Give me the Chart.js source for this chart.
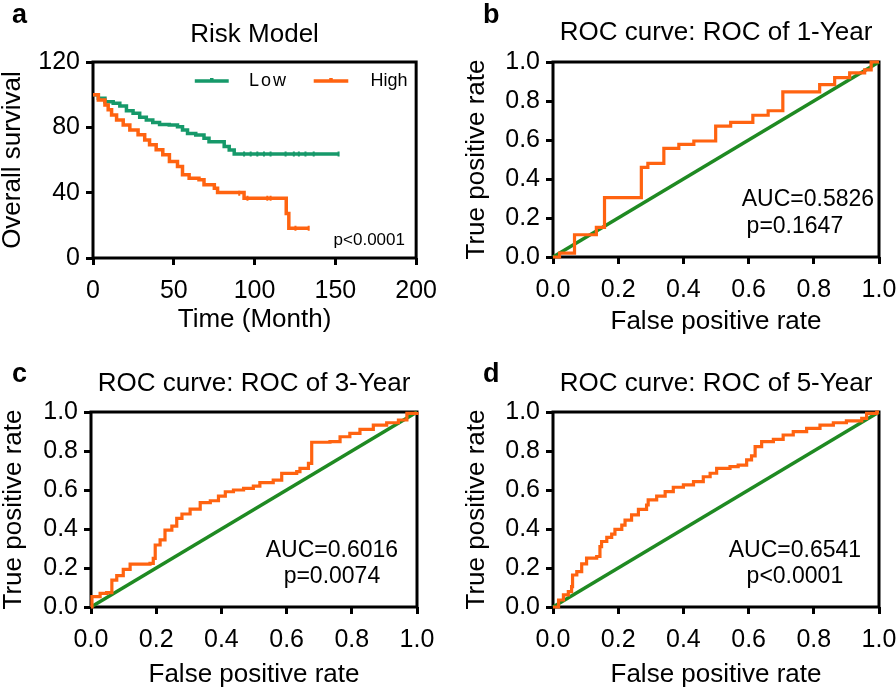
<!DOCTYPE html>
<html>
<head>
    <title>Risk Model and ROC curves</title>
    <script src="https://cdn.jsdelivr.net/npm/chart.js"></script>
    <style>
        html, body { margin: 0; background: #fff; overflow: hidden; width: 896px; height: 688px; }
        canvas { position: absolute; }
    </style>
</head>
<body>
    <canvas id="kmChart" width="448" height="344" style="left:0;top:0"></canvas>
    <canvas id="roc1Chart" width="470" height="344" style="left:448px;top:0"></canvas>
    <canvas id="roc3Chart" width="448" height="344" style="left:0;top:344px"></canvas>
    <canvas id="roc5Chart" width="470" height="344" style="left:448px;top:344px"></canvas>

    <script>
        // a: Kaplan-Meier, survival (%) after each drop
        const lowTime = [0, 3.3, 7.4, 12.5, 16.6, 20.7, 24.8, 28.9, 33, 37, 41.2, 47.2, 52.3, 55.4, 58.5, 63.6, 68.7, 71.8, 81.2, 84.3, 87.4, 152];
        const lowSurv = [100, 97.8, 95.7, 94.7, 93.1, 90.2, 88.6, 86.2, 84.5, 82.9, 81.8, 81.4, 80.4, 78.4, 76.3, 75.3, 73.3, 71.2, 68.2, 66.1, 63.7, 63.7];
        const highTime = [0, 3.3, 7.4, 9.4, 11.5, 14.6, 18.7, 22.8, 27.9, 32, 35, 39.1, 43.2, 47.3, 52.3, 55.4, 59.5, 65.6, 68.7, 75.1, 77.1, 93.5, 119.6, 121.2, 133.5];
        const highSurv = [100, 96.8, 93.7, 90.7, 87.6, 84.5, 81.5, 78.4, 75.4, 72.3, 69.3, 66.2, 63.2, 59.1, 56, 50.9, 48.9, 47.9, 44.8, 42.7, 40.1, 36.6, 27.3, 18.2, 18.2];
        // censored marks
        const lowCensTime = [93.5, 97.6, 101.7, 105.8, 109.9, 119.2, 124.3, 127.4, 131.5, 136.6, 152];
        const lowCensSurv = [63.7, 63.7, 63.7, 63.7, 63.7, 63.7, 63.7, 63.7, 63.7, 63.7, 63.7];
        const highCensTime = [90.5, 95.6, 107.9, 109.9, 125.3, 133.5];
        const highCensSurv = [39.7, 36.6, 36.6, 36.6, 18.2, 18.2];

        // b: ROC 1-year
        const fpr1 = [0, 0.02, 0.066, 0.133, 0.158, 0.271, 0.291, 0.34, 0.386, 0.432, 0.499, 0.545, 0.613, 0.66, 0.705, 0.818, 0.864, 0.91, 0.956, 0.976, 1.0];
        const tpr1 = [0, 0.02, 0.114, 0.152, 0.305, 0.46, 0.48, 0.557, 0.578, 0.595, 0.671, 0.69, 0.727, 0.75, 0.847, 0.884, 0.92, 0.944, 0.96, 1.0, 1.0];

        // c: ROC 3-year
        const fpr3 = [0, 0.003, 0.028, 0.048, 0.064, 0.079, 0.099, 0.12, 0.181, 0.191, 0.197, 0.212, 0.227, 0.248, 0.263, 0.279, 0.304, 0.335, 0.366, 0.391, 0.412, 0.437, 0.468, 0.498, 0.518, 0.559, 0.585, 0.631, 0.641, 0.667, 0.677, 0.733, 0.764, 0.794, 0.825, 0.866, 0.907, 0.943, 0.969, 1.0];
        const tpr3 = [0, 0.053, 0.07, 0.074, 0.138, 0.161, 0.193, 0.22, 0.224, 0.249, 0.318, 0.344, 0.394, 0.415, 0.455, 0.477, 0.502, 0.535, 0.545, 0.569, 0.591, 0.6, 0.608, 0.62, 0.638, 0.651, 0.685, 0.694, 0.711, 0.737, 0.845, 0.848, 0.873, 0.89, 0.911, 0.933, 0.945, 0.959, 0.993, 1.0];

        // d: ROC 5-year
        const fpr5 = [0, 0.006, 0.017, 0.032, 0.047, 0.057, 0.06, 0.073, 0.088, 0.103, 0.134, 0.144, 0.149, 0.165, 0.18, 0.19, 0.211, 0.221, 0.241, 0.262, 0.287, 0.292, 0.318, 0.344, 0.369, 0.4, 0.431, 0.461, 0.482, 0.502, 0.543, 0.568, 0.594, 0.609, 0.62, 0.64, 0.676, 0.706, 0.737, 0.778, 0.819, 0.86, 0.9, 0.947, 0.962, 0.993, 1.0];
        const tpr5 = [0, 0, 0.036, 0.062, 0.079, 0.104, 0.164, 0.181, 0.221, 0.251, 0.259, 0.31, 0.336, 0.357, 0.374, 0.398, 0.42, 0.446, 0.472, 0.501, 0.523, 0.549, 0.569, 0.592, 0.614, 0.626, 0.643, 0.668, 0.686, 0.711, 0.72, 0.728, 0.754, 0.775, 0.822, 0.848, 0.86, 0.882, 0.899, 0.916, 0.933, 0.945, 0.955, 0.967, 0.993, 1.0, 1.0];

        const diagX = [0, 1];
        const diagY = [0, 1];

        const FONT = "'Liberation Sans', Arial, Helvetica, sans-serif";
        const ORANGE = '#ff6310';
        const KM_GREEN = '#16996a';
        const DIAG_GREEN = '#1f8a22';

        Chart.defaults.font.family = FONT;
        Chart.defaults.color = '#000';

        const pts = (xs, ys) => xs.map((v, i) => ({ x: v, y: ys[i] }));

        // frame, title, panel letter, notes, legend
        function panelPlugin(cfg) {
            return {
                id: 'panelText',
                beforeDatasetsDraw(chart) {
                    const { ctx, chartArea: a } = chart;
                    ctx.save();
                    ctx.strokeStyle = '#000';
                    ctx.lineWidth = 3;
                    ctx.strokeRect(a.left, a.top, a.right - a.left, a.bottom - a.top);
                    ctx.restore();
                },
                afterDatasetsDraw(chart) {
                    const { ctx, chartArea: a, scales: { x, y } } = chart;
                    ctx.save();
                    ctx.fillStyle = '#000';
                    ctx.textAlign = 'center';
                    ctx.textBaseline = 'middle';
                    ctx.font = '26px ' + FONT;
                    ctx.fillText(cfg.title, (a.left + a.right) / 2, cfg.titleY);

                    ctx.textAlign = 'left';
                    ctx.textBaseline = 'alphabetic';
                    ctx.font = 'bold 27px ' + FONT;
                    ctx.fillText(cfg.letter, cfg.letterX, cfg.letterY);

                    ctx.textAlign = 'center';
                    ctx.textBaseline = 'middle';
                    (cfg.notes || []).forEach(n => {
                        ctx.font = n.size + 'px ' + FONT;
                        ctx.fillText(n.text, x.getPixelForValue(n.x), y.getPixelForValue(n.y));
                    });

                    (cfg.legend || []).forEach(l => {
                        const py = y.getPixelForValue(l.y);
                        const x0 = x.getPixelForValue(l.x0), x1 = x.getPixelForValue(l.x1);
                        ctx.strokeStyle = l.color;
                        ctx.lineWidth = 3.5;
                        ctx.beginPath();
                        ctx.moveTo(x0, py); ctx.lineTo(x1, py);
                        ctx.moveTo((x0 + x1) / 2, py - 3); ctx.lineTo((x0 + x1) / 2, py);
                        ctx.stroke();
                        ctx.textAlign = 'left';
                        ctx.font = '18px ' + FONT;
                        if ('letterSpacing' in ctx) ctx.letterSpacing = l.spacing || '0px';
                        ctx.fillText(l.label, x.getPixelForValue(l.tx), py);
                    });
                    ctx.restore();
                }
            };
        }

        function axisOpts(c) {
            const grid = { drawOnChartArea: false, drawTicks: true, tickLength: 7, tickWidth: 3, tickColor: '#000' };
            return {
                x: {
                    type: 'linear', min: c.xmin, max: c.xmax,
                    grid: grid, border: { display: false },
                    ticks: { stepSize: c.xstep, font: { size: 25 }, padding: 11, maxRotation: 0, callback: c.fmt },
                    title: { display: true, text: c.xtitle, font: { size: 26, lineHeight: 1 }, padding: 0 },
                    afterFit: s => { s.height = c.xh; }
                },
                y: {
                    type: 'linear', min: c.ymin, max: c.ymax,
                    grid: grid, border: { display: false },
                    ticks: { stepSize: c.ystep, font: { size: 25 }, padding: 6, callback: c.fmt },
                    title: { display: true, text: c.ytitle, font: { size: 26, lineHeight: 1 }, padding: 0 },
                    afterFit: s => { s.width = c.yw; }
                }
            };
        }

        function baseOptions(c) {
            return {
                responsive: false,
                animation: false,
                events: [],
                layout: { padding: c.pad },
                plugins: { legend: { display: false }, tooltip: { enabled: false } },
                elements: { point: { radius: 0 } },
                scales: axisOpts(c)
            };
        }

        function lineSet(data, color, width, stepped) {
            return { data: data, borderColor: color, backgroundColor: color, borderWidth: width, stepped: stepped, pointRadius: 0, fill: false, clip: 6 };
        }

        function censorSet(data, color) {
            return { data: data, showLine: false, pointStyle: 'line', pointRotation: 90, pointRadius: 2.5, pointBorderWidth: 2, pointBorderColor: color, borderColor: color, clip: 6 };
        }

        const fmt1 = v => v.toFixed(1);
        const fmt0 = v => v;

        // a
        new Chart(document.getElementById('kmChart'), {
            type: 'line',
            data: {
                datasets: [
                    lineSet(pts(highTime, highSurv), ORANGE, 3.5, true),
                    lineSet(pts(lowTime, lowSurv), KM_GREEN, 3.5, true),
                    censorSet(pts(highCensTime, highCensSurv), ORANGE),
                    censorSet(pts(lowCensTime, lowCensSurv), KM_GREEN)
                ]
            },
            options: baseOptions({
                xmin: 0, xmax: 200, xstep: 50, ymin: 0, ymax: 120, ystep: 40, fmt: fmt0,
                xtitle: 'Time (Month)', ytitle: 'Overall survival',
                pad: { left: 0, right: 30, top: 62, bottom: 11 }, yw: 93, xh: 75
            }),
            plugins: [panelPlugin({
                title: 'Risk Model', titleY: 35, letter: 'a', letterX: 12, letterY: 23,
                notes: [{ text: 'p<0.0001', x: 171, y: 11, size: 17 }],
                legend: [
                    { label: 'Low', color: KM_GREEN, x0: 63, x1: 84, tx: 96.6, y: 108.4, spacing: '2px' },
                    { label: 'High', color: ORANGE, x0: 136.6, x1: 158, tx: 171.7, y: 108.4 }
                ]
            })]
        });

        // ROC panels
        function rocChart(id, fpr, tpr, c) {
            new Chart(document.getElementById(id), {
                type: 'line',
                data: {
                    datasets: [
                        lineSet(pts(fpr, tpr), ORANGE, 3.2, true),
                        lineSet(pts(diagX, diagY), DIAG_GREEN, 3.5, false)
                    ]
                },
                options: baseOptions({
                    xmin: 0, xmax: 1, xstep: 0.2, ymin: 0, ymax: 1, ystep: 0.2, fmt: fmt1,
                    xtitle: 'False positive rate', ytitle: 'True positive rate',
                    pad: c.pad, yw: c.yw, xh: c.xh
                }),
                plugins: [panelPlugin(c.text)]
            });
        }

        rocChart('roc1Chart', fpr1, tpr1, {
            pad: { left: 16, right: 39, top: 62, bottom: 9 }, yw: 89, xh: 78,
            text: {
                title: 'ROC curve: ROC of 1-Year', titleY: 33, letter: 'b', letterX: 35, letterY: 23,
                notes: [{ text: 'AUC=0.5826', x: 0.782, y: 0.292, size: 23 }, { text: 'p=0.1647', x: 0.742, y: 0.154, size: 23 }]
            }
        });

        rocChart('roc3Chart', fpr3, tpr3, {
            pad: { left: 1, right: 31, top: 68, bottom: 0 }, yw: 90, xh: 81,
            text: {
                title: 'ROC curve: ROC of 3-Year', titleY: 40, letter: 'c', letterX: 12, letterY: 38,
                notes: [{ text: 'AUC=0.6016', x: 0.739, y: 0.287, size: 23 }, { text: 'p=0.0074', x: 0.739, y: 0.154, size: 23 }]
            }
        });

        rocChart('roc5Chart', fpr5, tpr5, {
            pad: { left: 16, right: 39, top: 68, bottom: 0 }, yw: 89, xh: 81,
            text: {
                title: 'ROC curve: ROC of 5-Year', titleY: 40, letter: 'd', letterX: 35, letterY: 38,
                notes: [{ text: 'AUC=0.6541', x: 0.742, y: 0.287, size: 23 }, { text: 'p<0.0001', x: 0.742, y: 0.154, size: 23 }]
            }
        });
    </script>
</body>
</html>
